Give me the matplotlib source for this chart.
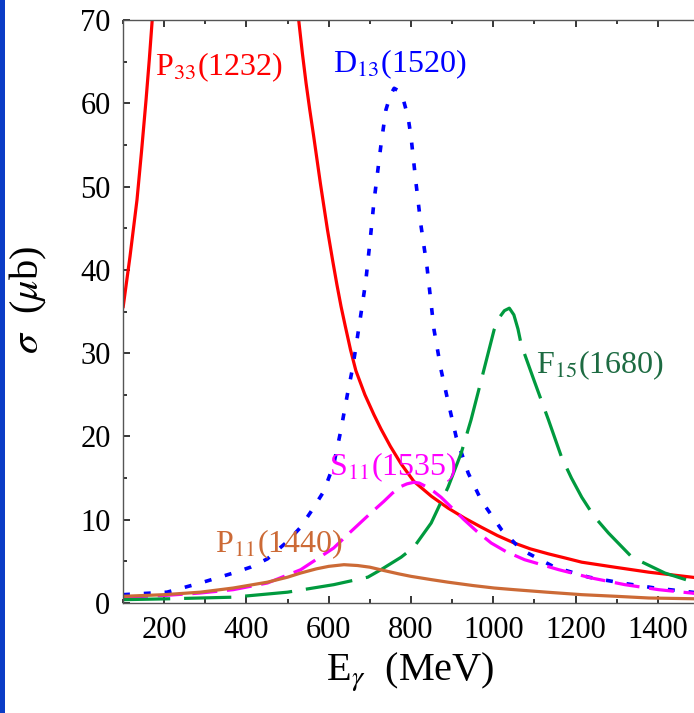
import numpy as np
import matplotlib
matplotlib.use('Agg')
import matplotlib.pyplot as plt
import matplotlib.ticker as mticker
from matplotlib.patches import Rectangle

# photon energy (MeV) / cross section (mub)
p33_e = [100, 117, 134, 145, 156, 164, 171, None,
         527, 536, 545, 554, 563, 580, 597, 610, 620, 630, 640, 653, 666, 688, 710, 727, 750,
         776, 807, 850, 890, 930, 971, 1010, 1051, 1090, 1134, 1175, 1215, 1295, 1378, 1500]
p33_s = [35.4, 41.6, 48.4, 54.2, 60.4, 65.3, 70.0, None,
         70.0, 66.0, 62.4, 59.2, 56.2, 50.3, 44.8, 41.0, 38.2, 35.6, 33.3, 30.4, 27.9, 25.0, 22.6, 20.9, 18.8,
         16.7, 14.6, 12.8, 11.4, 10.2, 9.1, 8.1, 7.2, 6.5, 5.9, 5.4, 4.9, 4.3, 3.7, 3.0]

d13_e = [100, 207, 288, 368, 410, 451, 500, 530, 556, 588, 612, 629, 646, 658, 666, 678, 690, 702, 710,
         719, 727, 739, 750, 759, 770, 780, 793, 800, 812, 824, 839, 856, 873, 890, 910, 939,
         971, 1020, 1068, 1149, 1232, 1312, 1393, 1500]
d13_s = [1.0, 1.3, 2.4, 3.6, 4.3, 5.3, 7.4, 9.0, 10.9, 13.4, 16.6, 20.6, 25.2, 28.2, 30.7, 34.6, 38.6, 44.2, 48.2,
         51.8, 55.0, 59.2, 61.0, 61.8, 61.5, 60.7, 58.3, 56.0, 50.5, 45.4, 40.3, 32.8, 28.0, 24.2, 19.9, 15.6,
         12.3, 8.8, 6.4, 4.3, 3.1, 2.4, 1.8, 1.2]

s11_e = [100, 200, 288, 368, 451, 532, 612, 650, 700, 734, 755, 776, 790, 807, 820, 840, 855, 873,
         900, 929, 960, 995, 1030, 1076, 1159, 1239, 1320, 1402, 1500]
s11_s = [0.7, 0.9, 1.2, 1.6, 2.4, 4.0, 6.6, 8.4, 10.7, 12.2, 13.2, 14.0, 14.3, 14.5, 14.4, 13.9, 13.4, 12.7,
         11.4, 10.0, 8.6, 7.2, 6.2, 5.2, 4.0, 3.0, 2.2, 1.6, 1.1]

f15_e = [100, 207, 368, 500, 612, 695, 727, 776, 807, 849, 890, 922, 946, 971, 1002, 1015, 1027, 1039,
         1050, 1060, 1068, 1084, 1100, 1134, 1166, 1190, 1215, 1245, 1280, 1337, 1417, 1500]
f15_s = [0.4, 0.5, 0.7, 1.3, 2.2, 3.1, 4.0, 5.5, 6.7, 9.6, 13.9, 18.0, 22.0, 26.8, 32.8, 34.3, 35.1, 35.4,
         34.6, 32.9, 31.0, 28.8, 26.6, 22.0, 17.5, 15.0, 12.7, 10.4, 8.4, 5.5, 3.6, 2.3]

p11_e = [100, 200, 288, 368, 451, 500, 532, 570, 600, 637, 670, 700, 734, 770, 800, 850, 890, 950,
         1002, 1051, 1130, 1215, 1300, 1378, 1500]
p11_s = [0.8, 1.0, 1.3, 1.8, 2.5, 3.1, 3.6, 4.1, 4.4, 4.6, 4.5, 4.3, 3.9, 3.5, 3.2, 2.8, 2.5, 2.1,
         1.8, 1.6, 1.3, 1.0, 0.8, 0.6, 0.5]

labels = ['P$_{33}$(1232)', 'D$_{13}$(1520)', 'F$_{15}$(1680)', 'S$_{11}$(1535)', 'P$_{11}$(1440)']
label_xy = [(178, 63.4), (610, 63.7), (1105, 27.6), (600, 15.4), (324, 6.1)]
label_colors = ['#ff0000', '#0000ff', '#1d6b42', '#ff00ff', '#cc6a36']

xticks = [200, 400, 600, 800, 1000, 1200, 1400]
yticks = [0, 10, 20, 30, 40, 50, 60, 70]


def arr(v):
    return np.array([np.nan if a is None else a for a in v], dtype=float)


plt.rcParams['font.family'] = ['Liberation Serif', 'DejaVu Serif']
plt.rcParams['mathtext.fontset'] = 'stix'
plt.rcParams['lines.scale_dashes'] = False

fig = plt.figure(figsize=(6.94, 7.13), dpi=100, facecolor='white')
ax = fig.add_axes([123 / 694, 110 / 713, 576 / 694, 583 / 713])

# thin blue strip on the left edge of the page
fig.patches.append(Rectangle((0, 0), 5 / 694, 1, transform=fig.transFigure,
                             facecolor='#0b3cc6', edgecolor='none'))

ax.plot(arr(p33_e), arr(p33_s), color='#ff0000', lw=2.3, solid_capstyle='butt')
ax.plot(d13_e, d13_s, color='#0000ff', lw=2.6, dashes=(5, 10))
ax.plot(s11_e, s11_s, color='#ff00ff', lw=2.3, dashes=(18, 7))
ax.plot(f15_e, f15_s, color='#009a3e', lw=2.3, dashes=(34, 10))
ax.plot(p11_e, p11_s, color='#cc6a36', lw=2.3)

for s, (x, y), c in zip(labels, label_xy, label_colors):
    ax.text(x, y, s, color=c, fontsize=23, ha='left', va='baseline')

ax.set_xlim(100, 1500)
ax.set_ylim(0, 70)
ax.set_xticks(xticks)
ax.set_yticks(yticks)
ax.xaxis.set_minor_locator(mticker.MultipleLocator(100))
ax.yaxis.set_minor_locator(mticker.MultipleLocator(5))
ax.tick_params(which='both', direction='in', top=True, right=False, labelsize=22,
               color='black', width=1.1)
ax.tick_params(which='major', length=5, pad=9)
ax.tick_params(which='minor', length=3)
for sp in ax.spines.values():
    sp.set_color('#555555')
    sp.set_linewidth(1.0)

fig.text(410 / 694, 1 - 672 / 713, r'E$_{\gamma}$  (MeV)', fontsize=29, ha='center', va='center')
fig.text(28 / 694, 1 - 300 / 713, r'$\sigma$  ($\mu$b)', fontsize=29, ha='center', va='center',
         rotation=90)

fig.savefig('out.png', dpi=100)
